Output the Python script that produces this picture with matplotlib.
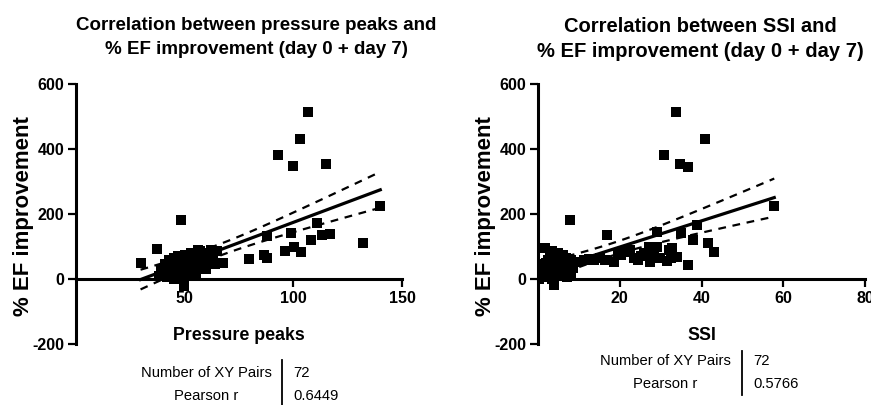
import numpy as np
import matplotlib
matplotlib.use('Agg')
import matplotlib.pyplot as plt

plt.rcParams['axes.unicode_minus'] = False

# pressure peaks vs % EF improvement
peaks_x = [106.7, 102.9, 92.9, 99.9, 115, 140, 132, 111, 113, 117, 108, 98.7,
           100.5, 103.6, 96, 87.8, 86.3, 88, 79.6, 48.5, 29.7, 37.3, 67.7, 49.9,
           38, 39, 40, 41, 42, 42, 43, 44, 44, 45, 45, 46, 46, 47, 47, 48,
           48, 49, 49, 50, 50, 51, 51, 52, 52, 53, 53, 54, 54, 55, 55, 56,
           57, 57, 58, 58, 59, 60, 60, 61, 62, 63, 64, 65, 62, 56, 50, 45]
peaks_y = [515, 431, 381, 348, 353, 225, 110, 171, 135, 138, 120, 142,
           99, 82, 86, 133, 74, 66, 62, 181, 48, 91, 48, -20,
           10, 30, 20, 45, 5, 35, 60, 15, 40, 25, 65, 50, 10, 30, 70, 20,
           45, 60, 5, 35, 75, 25, 50, 65, 15, 40, 80, 30, 55, 70, 20, 45,
           60, 85, 35, 75, 50, 65, 30, 80, 55, 70, 45, 85, 90, 90, 55, 0]

# SSI vs % EF improvement
ssi_x = [33.7, 40.9, 30.8, 34.7, 36.8, 57.8, 38.8, 35, 37.8, 41.7, 43, 36.6,
         29.2, 7.8, 16.9, 32.7, 33.9, 24.4, 27.2, 28.5, 27.4, 21.8, 18.5, 16.5,
         13.7, 11.3, 9.5, 25.1, 29.9, 32, 32.5, 23.5, 15.2, 20.2, 29.0, 31.5,
         19.5, 12.5, 22.5, 26.0,
         0.5, 1, 1.5, 1.8, 2, 2.5, 3, 3, 3.5, 3.9, 4, 4.5, 4.5, 5, 5, 5.5,
         6, 6, 6.5, 6.9, 7, 7.5, 8, 8.5, 8, 2.5, 1, 4, 6, 7.5, 3.5, 0.2]
ssi_y = [515, 431, 381, 353, 346, 225, 166, 141, 120, 110, 82, 43,
         146, 181, 135, 94, 69, 58, 99, 74, 53, 84, 53, 58,
         58, 58, 53, 71, 64, 89, 64, 64, 64, 74, 100, 55,
         80, 62, 90, 80,
         15, 30, 5, 94, 50, 20, 70, 35, 0, -18, 45, 60, 10, 25, 80, 40,
         55, 15, 30, 65, 5, 45, 20, 35, 58, 60, 45, -5, 75, 10, 85, 0]

titles = [("Correlation between pressure peaks and", "% EF improvement (day 0 + day 7)"),
          ("Correlation between SSI and", "% EF improvement (day 0 + day 7)")]
xlabels = ["Pressure peaks", "SSI"]
pearson = ["0.6449", "0.5766"]
n_pairs = ["72", "72"]
xlims = [(0, 150), (0, 80)]
xticks = [[50, 100, 150], [20, 40, 60, 80]]
yticks = [-200, 0, 200, 400, 600]

W, H = 871, 405
font = ['Liberation Sans', 'DejaVu Sans']

fig = plt.figure(figsize=(W / 100, H / 100), dpi=100)


def px(x, y):
    # pixel (from top-left) to figure fraction
    return x / W, 1 - y / H


def fit_plot(ax, x, y):
    x = np.asarray(x, float)
    y = np.asarray(y, float)
    n = len(x)
    b, a = np.polyfit(x, y, 1)
    xs = np.linspace(x.min(), x.max(), 100)
    yh = a + b * xs
    res = y - (a + b * x)
    s = np.sqrt(np.sum(res ** 2) / (n - 2))
    sxx = np.sum((x - x.mean()) ** 2)
    t = 1.994  # t(0.975, df=70)
    half = t * s * np.sqrt(1.0 / n + (xs - x.mean()) ** 2 / sxx)
    ax.scatter(x, y, marker='s', s=46, color='black', linewidths=0, zorder=3)
    ax.plot(xs, yh, color='black', lw=2.3, zorder=4)
    ax.plot(xs, yh + half, color='black', lw=1.6, ls=(0, (3.5, 3)), zorder=4)
    ax.plot(xs, yh - half, color='black', lw=1.6, ls=(0, (3.5, 3)), zorder=4)


panels = [(76, 402, peaks_x, peaks_y), (538, 865, ssi_x, ssi_y)]
title_cx = [256, 700]
title_fs = [13.5, 14.5]
title_base = [(30, 54), (32, 57)]
ylabel_cx = [23, 485]
table = [dict(cx=206, bar=282, top=360, bot=405, vx=293, y1=377, y2=400),
         dict(cx=665, bar=742, top=351, bot=395, vx=753, y1=365, y2=388)]

for i, (x0, x1, xd, yd) in enumerate(panels):
    ax = fig.add_axes([x0 / W, 61 / H, (x1 - x0) / W, 260 / H])
    fit_plot(ax, xd, yd)
    ax.set_xlim(*xlims[i])
    ax.set_ylim(-200, 600)
    ax.spines['top'].set_visible(False)
    ax.spines['right'].set_visible(False)
    ax.spines['bottom'].set_position(('data', 0))
    for sp in ('left', 'bottom'):
        ax.spines[sp].set_linewidth(2.2)
    ax.set_xticks(xticks[i])
    ax.set_yticks(yticks)
    ax.tick_params(length=6, width=1.6, pad=2.5)
    for lab in ax.get_xticklabels() + ax.get_yticklabels():
        lab.set_family(font)
        lab.set_fontweight('bold')
        lab.set_fontsize(11.5)

    # titles
    fig.text(*px(title_cx[i], title_base[i][0]), titles[i][0], ha='center', va='baseline',
             family=font, fontweight='bold', fontsize=title_fs[i])
    fig.text(*px(title_cx[i], title_base[i][1]), titles[i][1], ha='center', va='baseline',
             family=font, fontweight='bold', fontsize=title_fs[i])

    fig.text(*px((x0 + x1) / 2, 340), xlabels[i], ha='center', va='baseline',
             family=font, fontweight='bold', fontsize=12.8)
    fig.text(*px(ylabel_cx[i], 216), "% EF improvement", ha='center', va='center',
             rotation=90, family=font, fontweight='bold', fontsize=16)

    # stats table below the plot
    tb = table[i]
    fig.text(*px(tb['cx'], tb['y1']), "Number of XY Pairs", ha='center', va='baseline',
             family=font, fontsize=10.6)
    fig.text(*px(tb['cx'], tb['y2']), "Pearson r", ha='center', va='baseline',
             family=font, fontsize=10.6)
    fig.text(*px(tb['vx'], tb['y1']), n_pairs[i], ha='left', va='baseline',
             family=font, fontsize=10.6)
    fig.text(*px(tb['vx'], tb['y2']), pearson[i], ha='left', va='baseline',
             family=font, fontsize=10.6)
    fig.add_artist(plt.Line2D([tb['bar'] / W] * 2, [1 - tb['top'] / H, 1 - tb['bot'] / H],
                              color='black', lw=1.3))

fig.savefig('out.png', dpi=100)
